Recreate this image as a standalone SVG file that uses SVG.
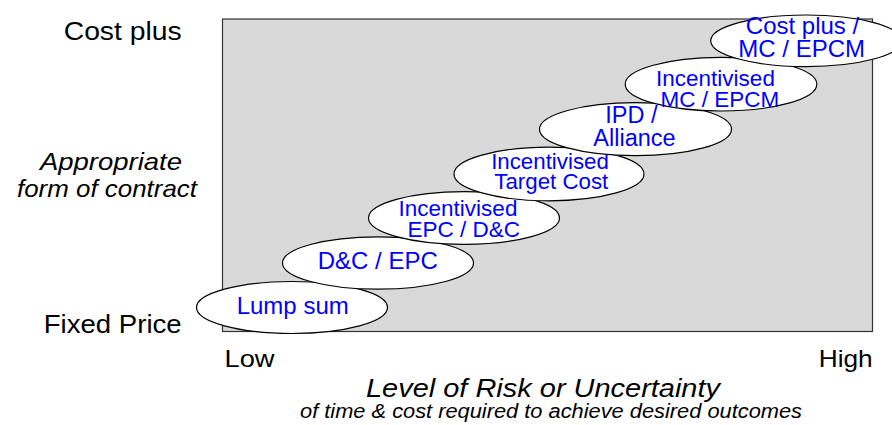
<svg xmlns="http://www.w3.org/2000/svg" width="892" height="425" viewBox="0 0 892 425">
<style>
.lbl{font-family:"Liberation Sans",Arial,sans-serif;fill:#000}
.it{font-style:italic}
.node ellipse{fill:#fff;stroke:#000;stroke-width:1.2}
.node text{font-family:"Liberation Sans",Arial,sans-serif;fill:#0000ff;text-anchor:middle}
</style>
<rect x="222.5" y="19" width="650" height="312.5" fill="#d9d9d9" stroke="#333" stroke-width="1.2"/>
<g id="axis-labels">
<text class="lbl" x="181.7" y="40" font-size="25" text-anchor="end" textLength="118" lengthAdjust="spacingAndGlyphs">Cost plus</text>
<text class="lbl" x="181.7" y="333" font-size="25" text-anchor="end" textLength="138" lengthAdjust="spacingAndGlyphs">Fixed Price</text>
<text class="lbl it" x="111" y="170" font-size="24" text-anchor="middle" textLength="142" lengthAdjust="spacingAndGlyphs">Appropriate</text>
<text class="lbl it" x="107" y="197" font-size="24" text-anchor="middle" textLength="180" lengthAdjust="spacingAndGlyphs">form of contract</text>
<text class="lbl" x="224.5" y="366.7" font-size="24" textLength="50" lengthAdjust="spacingAndGlyphs">Low</text>
<text class="lbl" x="872.7" y="366.7" font-size="24" text-anchor="end" textLength="54" lengthAdjust="spacingAndGlyphs">High</text>
<text class="lbl it" x="543" y="397" font-size="25" text-anchor="middle" textLength="354" lengthAdjust="spacingAndGlyphs">Level of Risk or Uncertainty</text>
<text class="lbl it" x="551" y="418" font-size="19.5" text-anchor="middle" textLength="502" lengthAdjust="spacingAndGlyphs">of time &amp; cost required to achieve desired outcomes</text>
</g>
<g id="connectors"></g>
<g id="n1" class="node"><ellipse cx="292" cy="307.5" rx="95.5" ry="26"/><text x="292.7" y="314" font-size="24">Lump sum</text></g>
<g id="n2" class="node"><ellipse cx="378" cy="263" rx="95.5" ry="26.2"/><text x="377.8" y="269.3" font-size="24">D&amp;C / EPC</text></g>
<g id="n3" class="node"><ellipse cx="464" cy="218" rx="95.5" ry="26.3"/><text font-size="22.5"><tspan x="458" y="216">Incentivised</tspan><tspan x="463.7" y="237.3">EPC / D&amp;C</tspan></text></g>
<g id="n4" class="node"><ellipse cx="549" cy="174" rx="95" ry="26.8"/><text font-size="22.3"><tspan x="550" y="169.3">Incentivised</tspan><tspan x="551.3" y="189.3">Target Cost</tspan></text></g>
<g id="n5" class="node"><ellipse cx="635.5" cy="129.2" rx="96" ry="26.5"/><text font-size="23.5"><tspan x="631.3" y="123.3">IPD /</tspan><tspan x="634.5" y="146">Alliance</tspan></text></g>
<g id="n6" class="node"><ellipse cx="721" cy="84.2" rx="95.8" ry="26.8"/><text font-size="22.5"><tspan x="715.5" y="85.7">Incentivised</tspan><tspan x="720" y="106.7">MC / EPCM</tspan></text></g>
<g id="n7" class="node"><ellipse cx="806.2" cy="40.8" rx="95.5" ry="25.8"/><text font-size="24"><tspan x="802.5" y="34">Cost plus /</tspan><tspan x="801.7" y="56.7">MC / EPCM</tspan></text></g>
</svg>
